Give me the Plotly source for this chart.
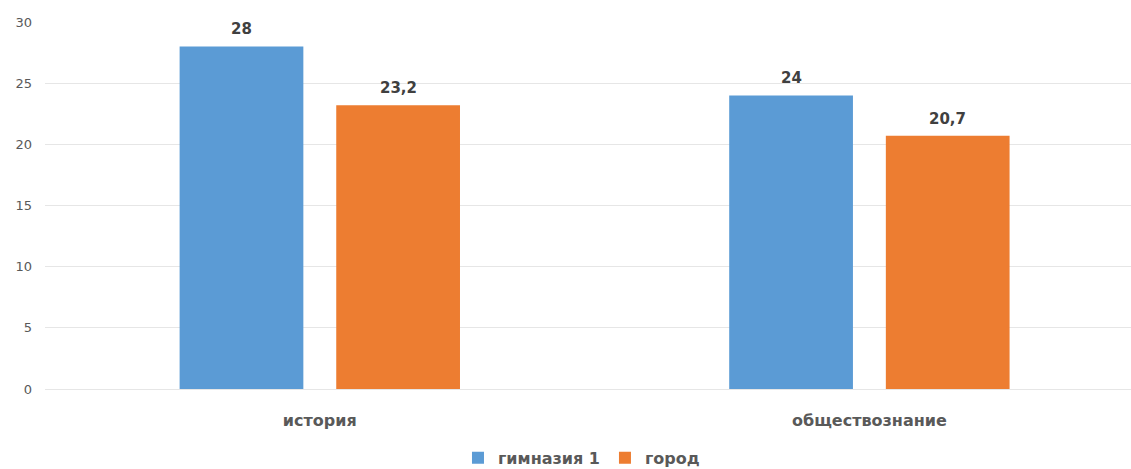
import plotly.graph_objects as go

categories = ["история", "обществознание"]
series_names = ["гимназия 1", "город"]
gymnasium = [28, 24]
city = [23.2, 20.7]
y_ticks = [0, 5, 10, 15, 20, 25, 30]

colors = ["#5B9BD5", "#ED7D31"]
FONT = "DejaVu Sans"
BARGAP = 0.43
BARGROUPGAP = 0.21

def fmt(v):
    return ("%g" % v).replace(".", ",")

fig = go.Figure()
all_series = [gymnasium, city]
for name, vals, col in zip(series_names, all_series, colors):
    fig.add_trace(go.Bar(
        x=categories, y=vals, name=name,
        marker=dict(color=col, line=dict(width=0)),
    ))

# value labels above bars (positions derived from group layout)
n = len(all_series)
slot = (1 - BARGAP) / n
for s_idx, vals in enumerate(all_series):
    for c_idx, v in enumerate(vals):
        xc = c_idx - (1 - BARGAP) / 2 + slot * (s_idx + 0.5)
        fig.add_annotation(
            x=xc, y=v, xref="x", yref="y", text="<b>%s</b>" % fmt(v),
            showarrow=False, yanchor="bottom", yshift=6,
            font=dict(family=FONT, size=15, color="#404040"),
        )

fig.update_layout(
    width=1131, height=469,
    margin=dict(l=45, r=0, t=22, b=80, autoexpand=False),
    paper_bgcolor="white", plot_bgcolor="white",
    barmode="group", bargap=BARGAP, bargroupgap=BARGROUPGAP,
    font=dict(family=FONT, color="#595959"),
    showlegend=True,
    legend=dict(orientation="h", x=0.494, xanchor="center",
                yref="container", y=0.024, yanchor="middle",
                font=dict(family=FONT, size=16, color="#595959", weight="bold"),
                itemwidth=30, traceorder="normal"),
)
fig.update_xaxes(range=[-0.5, 1.476], showgrid=False, showline=False, ticks="",
                 automargin=False,
                 tickfont=dict(family=FONT, size=16, color="#595959", weight="bold"),
                 ticklabelstandoff=20)
fig.update_yaxes(range=[0, 30], tickvals=y_ticks, showgrid=True, gridcolor="#E6E6E6",
                 gridwidth=1, zeroline=True, zerolinecolor="#E6E6E6", zerolinewidth=1,
                 automargin=False,
                 showline=False, ticks="", tickfont=dict(family=FONT, size=13, color="#595959"),
                 ticklabelstandoff=12)

fig.write_html("out.html", config={"displayModeBar": False},
               post_script="document.body.style.margin='0';document.body.style.overflow='hidden';")
